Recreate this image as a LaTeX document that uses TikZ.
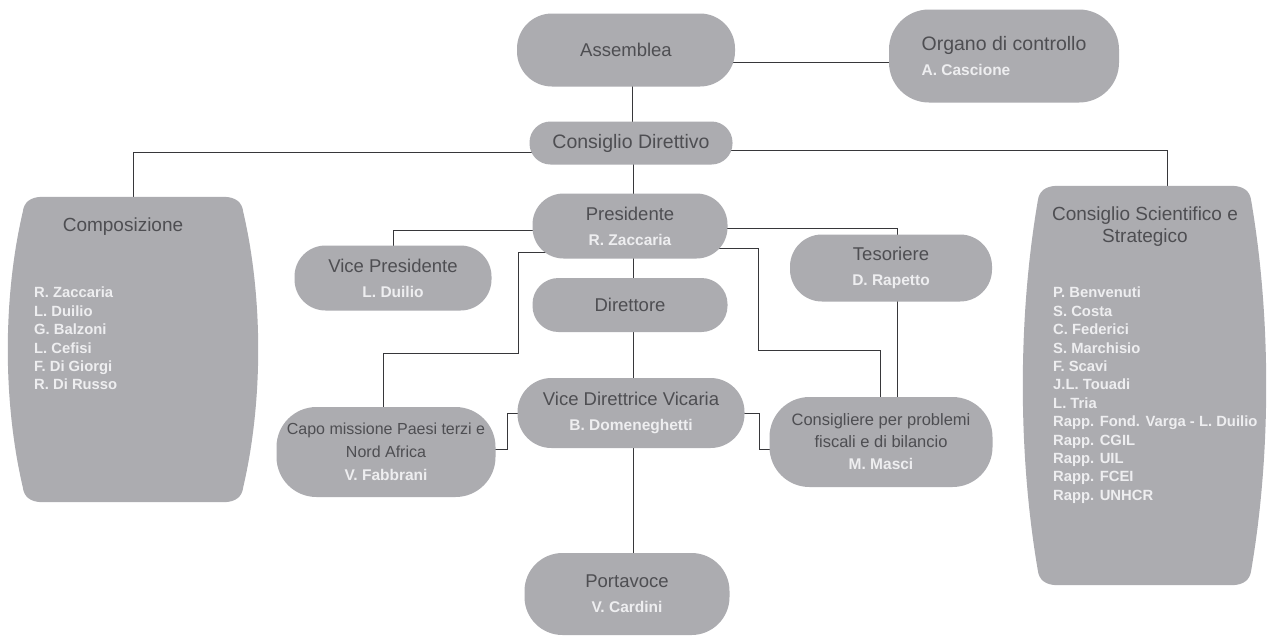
\documentclass[tikz,border=0pt]{standalone}
\usepackage{fontspec}
\setmainfont{Liberation Sans}
\usetikzlibrary{calc,backgrounds}
\definecolor{boxfill}{RGB}{172,172,176}
\definecolor{titlec}{RGB}{78,78,82}
\definecolor{namec}{RGB}{238,238,240}
\definecolor{linec}{RGB}{55,55,58}
\newcommand\nm[1]{{\color{namec}\bfseries\fontsize{15.5}{25}\selectfont #1}}
\newcommand\barrelfill[1]{%
\fill[boxfill]
 ($(#1.north west)+(35,0)$) -- ($(#1.north east)+(-35,0)$)
 .. controls ($(#1.north east)+(-22,0)$) and ($(#1.north east)+(-16,6)$) .. ($(#1.north east)+(-15,15)$)
 .. controls ($(#1.north east)!0.33!(#1.south east)+(5,0)$) and ($(#1.north east)!0.67!(#1.south east)+(5,0)$) .. ($(#1.south east)+(-15,-15)$)
 .. controls ($(#1.south east)+(-16,-6)$) and ($(#1.south east)+(-22,0)$) .. ($(#1.south east)+(-35,0)$)
 -- ($(#1.south west)+(35,0)$)
 .. controls ($(#1.south west)+(22,0)$) and ($(#1.south west)+(16,-6)$) .. ($(#1.south west)+(15,-15)$)
 .. controls ($(#1.north west)!0.67!(#1.south west)+(-5,0)$) and ($(#1.north west)!0.33!(#1.south west)+(-5,0)$) .. ($(#1.north west)+(15,15)$)
 .. controls ($(#1.north west)+(16,6)$) and ($(#1.north west)+(22,0)$) .. cycle;}
\begin{document}
\begin{tikzpicture}[x=1pt,y=-1pt,
  pill/.style={fill=boxfill, rounded corners=#1, inner sep=0pt, align=center,
    text=titlec, font=\fontsize{18.5}{25}\selectfont},
  pill/.default=30pt,
  barrelbox/.style={inner sep=0pt},
  conn/.style={draw=linec, line width=0.9pt},
  listtxt/.style={anchor=north west, inner sep=0pt, align=left, text=namec,
    font=\bfseries\fontsize{14.8}{18.4}\selectfont},
  bigtitle/.style={inner sep=0pt, align=center, text=titlec, font=\fontsize{19}{22}\selectfont}]
\useasboundingbox (0,0) rectangle (1274,638);

% pill nodes
\node[pill=35pt, minimum width=218, minimum height=73] (asm) at (626,50) {Assemblea};
\node[pill=40pt, minimum width=230, minimum height=93, align=left, font=\fontsize{19.5}{25}\selectfont] (org) at (1004,56)
  {Organo di controllo\\\nm{A. Cascione}};
\node[pill=21pt, minimum width=203, minimum height=43, font=\fontsize{19.5}{22}\selectfont] (cd) at (631,143) {Consiglio Direttivo};
\node[pill=31pt, minimum width=195, minimum height=65] (pres) at (630,226) {Presidente\\\nm{R. Zaccaria}};
\node[pill=31pt, minimum width=197, minimum height=65] (vp) at (393,278) {Vice Presidente\\\nm{L. Duilio}};
\node[pill=32pt, minimum width=202, minimum height=67] (tes) at (891,268) {Tesoriere\\\nm{D. Rapetto}};
\node[pill=26pt, minimum width=195, minimum height=54] (dir) at (630,305) {Direttore};
\node[pill=34pt, minimum width=227, minimum height=70] (vd) at (631,413) {Vice Direttrice Vicaria\\\nm{B. Domeneghetti}};
\node[pill=40pt, minimum width=219, minimum height=90, font=\fontsize{16}{23}\selectfont] (capo) at (386,452)
  {Capo missione Paesi terzi e\\Nord Africa\\\nm{V. Fabbrani}};
\node[pill=40pt, minimum width=223, minimum height=90, font=\fontsize{16.5}{22}\selectfont] (cons) at (881,442)
  {Consigliere per problemi\\fiscali e di bilancio\\\nm{M. Masci}};
\node[pill=38pt, minimum width=205, minimum height=82] (port) at (627,594) {Portavoce\\\nm{V. Cardini}};

% barrel nodes
\node[barrelbox, minimum width=250, minimum height=305] (comp) at (133,349.5) {};
\node[barrelbox, minimum width=243, minimum height=399] (css) at (1144.5,385.5) {};
\node[bigtitle] (comptitle) at (123,227) {Composizione};
\node[listtxt] (complist) at (34,287)
  {R. Zaccaria\\L. Duilio\\G. Balzoni\\L. Cefisi\\F. Di Giorgi\\R. Di Russo};
\node[bigtitle] (csstitle) at (1145,227) {Consiglio Scientifico e\\Strategico};
\node[listtxt] (csslist) at (1053,287)
  {P. Benvenuti\\S. Costa\\C. Federici\\S. Marchisio\\F. Scavi\\J.L. Touadi\\L. Tria\\Rapp. Fond. Varga - L. Duilio\\Rapp. CGIL\\Rapp. UIL\\Rapp. FCEI\\Rapp. UNHCR};

\begin{pgfonlayer}{background}
  \fill[white] (0,0) rectangle (1274,638);
  \draw[conn] ($(asm.east)+(-10,12)$) -- ($(org.west)+(10,6)$);
  \draw[conn] ($(asm.south)+(6,-5)$) -- ($(cd.north)+(1,5)$);
  \draw[conn] ($(cd.center)+(0,9)$) -| (comp.north);
  \draw[conn] ($(cd.center)+(0,7)$) -| ($(css.north)+(23,0)$);
  \draw[conn] ($(cd.center)+(2,0)$) -- ($(pres.center)+(3,0)$);
  \draw[conn] ($(pres.center)+(0,4)$) -| (vp.center);
  \draw[conn] ($(pres.center)+(0,2)$) -| ($(tes.center)+(6,0)$);
  \draw[conn] ($(pres.center)+(0,22)$) -| ($(pres.center)+(128,124)$) -| ($(cons.center)+(-1,0)$);
  \draw[conn] ($(pres.center)+(0,26)$) -| ($(pres.center)+(-112,127)$) -| ($(capo.center)+(-3,0)$);
  \draw[conn] ($(pres.center)+(3,0)$) -- ($(dir.center)+(3,0)$);
  \draw[conn] ($(dir.center)+(3,0)$) -- ($(vd.center)+(2,0)$);
  \draw[conn] ($(vd.center)+(2,0)$) -- ($(port.center)+(6,0)$);
  \coordinate (t1) at ($(tes.center)+(6,0)$);
  \draw[conn] (t1) -- (t1 |- cons.center);
  \draw[conn] ($(vd.west)+(5,0)$) -- ++(-15,0) |- ($(capo.east)+(-5,-3)$);
  \draw[conn] ($(vd.east)+(-5,0)$) -- ++(20,0) |- ($(cons.west)+(5,7)$);
  \barrelfill{comp}
  \barrelfill{css}
\end{pgfonlayer}
\end{tikzpicture}
\end{document}
